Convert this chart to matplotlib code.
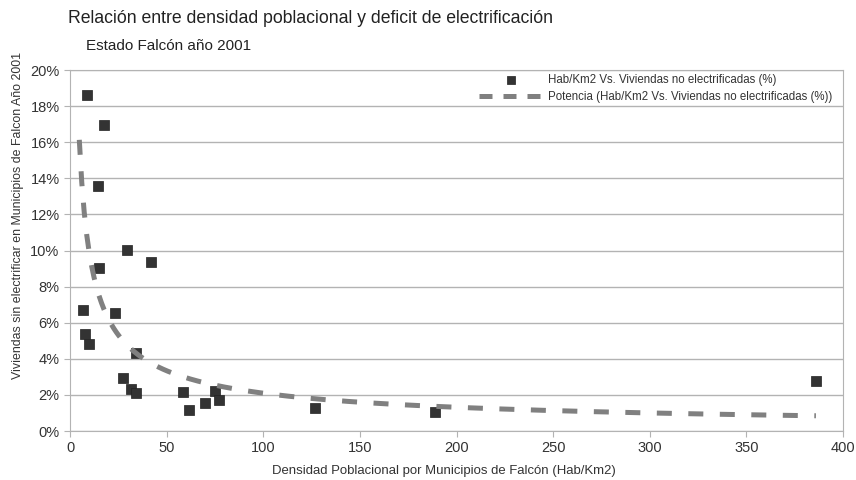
import numpy as np
import matplotlib.pyplot as plt

plt.rcParams['font.family'] = ['Liberation Sans', 'DejaVu Sans']

# densidad (Hab/Km2) y % de viviendas sin electrificar por municipio
densidad = [9.0, 17.4, 14.3, 14.8, 29.3, 41.9, 6.9, 7.9, 10.0, 23.1, 34.2,
            27.3, 31.7, 34.2, 58.6, 61.4, 69.8, 75.2, 77.3, 127.0, 189.0, 386.0]
sin_electricidad = [18.6, 16.95, 13.55, 9.05, 10.05, 9.37, 6.7, 5.4, 4.85, 6.55, 4.3,
                    2.95, 2.35, 2.13, 2.17, 1.15, 1.55, 2.22, 1.7, 1.25, 1.05, 2.8]

# linea de tendencia potencial: % = a * x^b
trend_a = 46.3
trend_b = -0.672
trend_desde = 4.8

x = np.array(densidad)
y = np.array(sin_electricidad) / 100

xt = np.linspace(trend_desde, x.max(), 300)
yt = trend_a * xt ** trend_b / 100

fig = plt.figure(figsize=(8.56, 4.8), dpi=100)
ax = fig.add_axes([0.0818, 0.102, 0.903, 0.752])

ax.scatter(x, y, marker='s', s=62, color='#333333', edgecolors='#222222',
           linewidths=0.5, zorder=3,
           label='Hab/Km2 Vs. Viviendas no electrificadas (%)')
ax.plot(xt, yt, color='#808080', lw=3.6, dashes=(3, 3.3), zorder=4,
        label='Potencia (Hab/Km2 Vs. Viviendas no electrificadas (%))')

ax.set_xlim(0, 400)
ax.set_ylim(0, 0.20)
ax.set_xticks(np.arange(0, 401, 50))
ax.set_yticks(np.arange(0, 0.201, 0.02))
ax.set_yticklabels([f'{v}%' for v in range(0, 21, 2)])
ax.yaxis.grid(True, color='#b3b3b3', lw=1)
ax.set_axisbelow(True)
for s in ax.spines.values():
    s.set_color('#b3b3b3')
ax.tick_params(colors='#b3b3b3', labelcolor='#333333', labelsize=10.5, length=4)

ax.set_xlabel('Densidad Poblacional por Municipios de Falcón (Hab/Km2)',
              fontsize=9.45, color='#333333', va='center')
ax.xaxis.set_label_coords(0.484, -0.112)
ax.set_ylabel('Viviendas sin electrificar en Municipios de Falcon Año 2001',
              fontsize=8.9, color='#333333', va='center')
ax.yaxis.set_label_coords(-0.067, 0.596)

fig.text(0.08, 0.962, 'Relación entre densidad poblacional y deficit de electrificación',
         fontsize=12.7, color='#222222', va='center')
fig.text(0.1, 0.905, 'Estado Falcón año 2001', fontsize=11, color='#222222', va='center')

leg = ax.legend(loc='upper right', bbox_to_anchor=(0.995, 1.008), frameon=False,
                fontsize=8.3, handlelength=5.6, handletextpad=0.4, labelspacing=0.4,
                borderaxespad=0.2, markerscale=0.75)
for t in leg.get_texts():
    t.set_color('#333333')
# shorter dashes in the legend key so three of them fit
leg.legend_handles[1].set_dashes((2.6, 2.2))

fig.savefig('out.png', dpi=100)
